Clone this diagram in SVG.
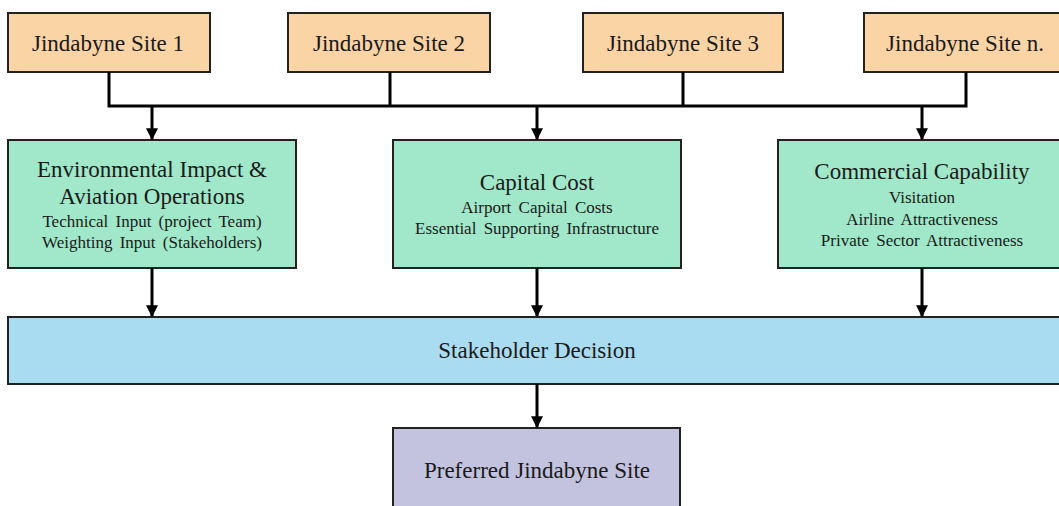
<svg xmlns="http://www.w3.org/2000/svg" width="1059" height="506" viewBox="0 0 1059 506">
<style>
.box{stroke:#222;stroke-width:2}
.site{fill:#FBD4A6}
.crit{fill:#A0E8C9}
.dec{fill:#AADCF1}
.pref{fill:#C3C3DF}
text{font-family:"Liberation Serif","Times New Roman",serif;fill:#1a1a1a;text-anchor:middle}
.big{font-size:23px}
.mid{font-size:23px}
.sm{font-size:17px;word-spacing:3px}
.conn{stroke:#000;stroke-width:3;fill:none}
</style>
<defs>
<marker id="ah" viewBox="0 0 10 10" refX="9" refY="5" markerWidth="4" markerHeight="4" orient="auto" markerUnits="strokeWidth">
<path d="M0,0 L10,5 L0,10 z" fill="#000"/>
</marker>
</defs>
<rect width="1059" height="506" fill="#fff"/>
<g id="site1"><rect class="box site" x="8" y="13" width="202" height="59"/><text class="big" x="108" y="51">Jindabyne Site 1</text></g>
<g id="site2"><rect class="box site" x="288" y="13" width="202" height="59"/><text class="big" x="389" y="51">Jindabyne Site 2</text></g>
<g id="site3"><rect class="box site" x="583" y="13" width="200" height="59"/><text class="big" x="683" y="51">Jindabyne Site 3</text></g>
<g id="siten"><rect class="box site" x="864" y="13" width="204" height="59"/><text class="big" x="965" y="51">Jindabyne Site n.</text></g>
<g id="env"><rect class="box crit" x="8" y="140" width="288" height="128"/>
<text class="mid" x="152" y="177">Environmental Impact &amp;</text>
<text class="mid" x="152" y="204">Aviation Operations</text>
<text class="sm" x="152" y="227">Technical Input (project Team)</text>
<text class="sm" x="152" y="248">Weighting Input (Stakeholders)</text></g>
<g id="capital"><rect class="box crit" x="393" y="140" width="288" height="128"/>
<text class="mid" x="537" y="190">Capital Cost</text>
<text class="sm" x="537" y="213">Airport Capital Costs</text>
<text class="sm" x="537" y="234">Essential Supporting Infrastructure</text></g>
<g id="commercial"><rect class="box crit" x="778" y="140" width="290" height="128"/>
<text class="mid" x="922" y="179">Commercial Capability</text>
<text class="sm" x="922" y="203">Visitation</text>
<text class="sm" x="922" y="225">Airline Attractiveness</text>
<text class="sm" x="922" y="246">Private Sector Attractiveness</text></g>
<g id="decision"><rect class="box dec" x="8" y="317" width="1060" height="67"/><text class="big" x="537" y="358">Stakeholder Decision</text></g>
<g id="preferred"><rect class="box pref" x="393" y="428" width="287" height="90"/><text class="big" x="537" y="478">Preferred Jindabyne Site</text></g>
<g id="connectors">
<path class="conn" d="M109,72 V106 H966 V72 M390,72 V106 M683,72 V106"/>
<path class="conn" d="M152,106 V139" marker-end="url(#ah)"/>
<path class="conn" d="M537,106 V139" marker-end="url(#ah)"/>
<path class="conn" d="M922,106 V139" marker-end="url(#ah)"/>
<path class="conn" d="M152,268 V316" marker-end="url(#ah)"/>
<path class="conn" d="M537,268 V316" marker-end="url(#ah)"/>
<path class="conn" d="M922,268 V316" marker-end="url(#ah)"/>
<path class="conn" d="M537,384 V427" marker-end="url(#ah)"/>
</g>
</svg>
